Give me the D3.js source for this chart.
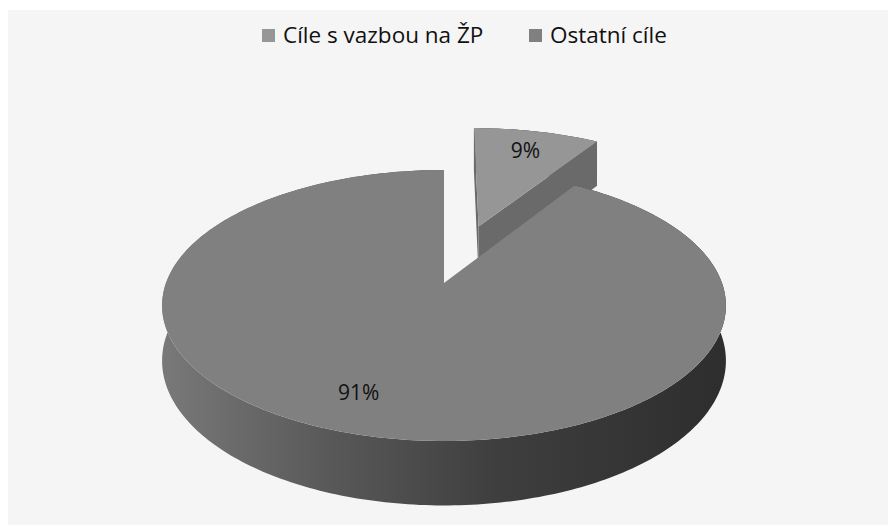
<!DOCTYPE html>
<html>
<head>
<meta charset="utf-8">
<script src="https://cdn.jsdelivr.net/npm/d3@7"></script>
<style>
  body { margin: 0; background: #fff; }
  text { font-family: "Open Sans", sans-serif; fill: #111; }
</style>
</head>
<body>
<svg width="888" height="525"></svg>
<script>
// data
const categories = ['Cíle s vazbou na ŽP', 'Ostatní cíle'];
const values = [9, 91];
const labels = ['9%', '91%'];
const explodeBy = [0.48, 0];
const labelShift = [0, 0.07];
const topColors = ['#969696', '#808080'];
const cutColors = ['#6a6a6a', '#5a5a5a'];

const svg = d3.select('svg');
const width = +svg.attr('width');
const height = +svg.attr('height');

// 3d view settings
const cx = 444, cy = 283;
const R = 278, depth = 61;
const sinA = 0.474, cosA = Math.sqrt(1 - sinA * sinA);
const D = 1474;

// px: right, py: up, pz: towards viewer
const project = (px, py, pz) => {
	const s = D / (D - pz * cosA);
	return [cx + px * s, cy - (py * cosA - pz * sinA) * s];
};

svg.append('rect').attr('width', width).attr('height', height).attr('fill', '#fff');
svg.append('rect').attr('x', 8).attr('y', 10)
	.attr('width', width - 8).attr('height', height - 10).attr('fill', '#f5f5f5');

const defs = svg.append('defs');
const grad = defs.append('linearGradient').attr('id', 'side')
	.attr('gradientUnits', 'userSpaceOnUse')
	.attr('x1', cx - R).attr('x2', cx + R).attr('y1', 0).attr('y2', 0);
[[0, '#787878'], [0.3, '#585858'], [0.6, '#3e3e3e'], [1, '#2e2e2e']].forEach(([o, c]) =>
	grad.append('stop').attr('offset', o).attr('stop-color', c));

const pie = d3.pie().sort(null).value(d => d)(values);
const line = d3.line();

const slices = pie.map((p, i) => {
	const mid = (p.startAngle + p.endAngle) / 2;
	const e = explodeBy[i] * R;
	return { ...p, i, mid, ox: e * Math.sin(mid), oz: -e * Math.cos(mid) };
});

const rim = (s, a, r, py) => project(s.ox + r * Math.sin(a), py, s.oz - r * Math.cos(a));
const arcPts = (s, py) => {
	const n = Math.max(2, Math.ceil((s.endAngle - s.startAngle) / (Math.PI / 180)));
	return d3.range(n + 1).map(k => rim(s, s.startAngle + (s.endAngle - s.startAngle) * k / n, R, py));
};

// camera position for face culling
const cam = [0, D * sinA, D * cosA];
const faceVisible = (s, a, sign) => {
	const nx = sign * Math.cos(a), nz = sign * Math.sin(a);
	return nx * (cam[0] - s.ox) + nz * (cam[2] - s.oz) > 0;
};

// far slices first
slices.sort((a, b) => (a.oz - Math.cos(a.mid)) - (b.oz - Math.cos(b.mid)));

const g = svg.append('g');
slices.forEach(s => {
	const topArc = arcPts(s, 0);
	const botArc = arcPts(s, -depth);
	const ctrTop = project(s.ox, 0, s.oz);
	const ctrBot = project(s.ox, -depth, s.oz);

	// outer side
	g.append('path')
		.attr('d', line(topArc.concat(botArc.slice().reverse())) + 'Z')
		.attr('fill', 'url(#side)');

	// cut faces
	[[s.startAngle, -1], [s.endAngle, 1]].forEach(([a, sign]) => {
		if (!faceVisible(s, a, sign)) return;
		const pts = [ctrTop, rim(s, a, R, 0), rim(s, a, R, -depth), ctrBot];
		g.append('path').attr('d', line(pts) + 'Z').attr('fill', cutColors[s.i]);
	});

	// top face
	g.append('path')
		.attr('d', line([ctrTop].concat(topArc)) + 'Z')
		.attr('fill', topColors[s.i]);
});

// labels
slices.forEach(s => {
	const [x, y] = rim(s, s.mid + labelShift[s.i], R * 0.78, 0);
	svg.append('text').attr('x', x).attr('y', y)
		.attr('text-anchor', 'middle').attr('dy', '0.35em')
		.attr('font-size', 21)
		.text(labels[s.i]);
});

// legend
const legendX = [262, 529];
const legend = svg.append('g');
categories.forEach((c, i) => {
	legend.append('rect').attr('x', legendX[i]).attr('y', 29)
		.attr('width', 13).attr('height', 13).attr('fill', topColors[i]);
	legend.append('text').attr('x', legendX[i] + 21).attr('y', 43)
		.attr('font-size', 22.5).text(c);
});
</script>
</body>
</html>
